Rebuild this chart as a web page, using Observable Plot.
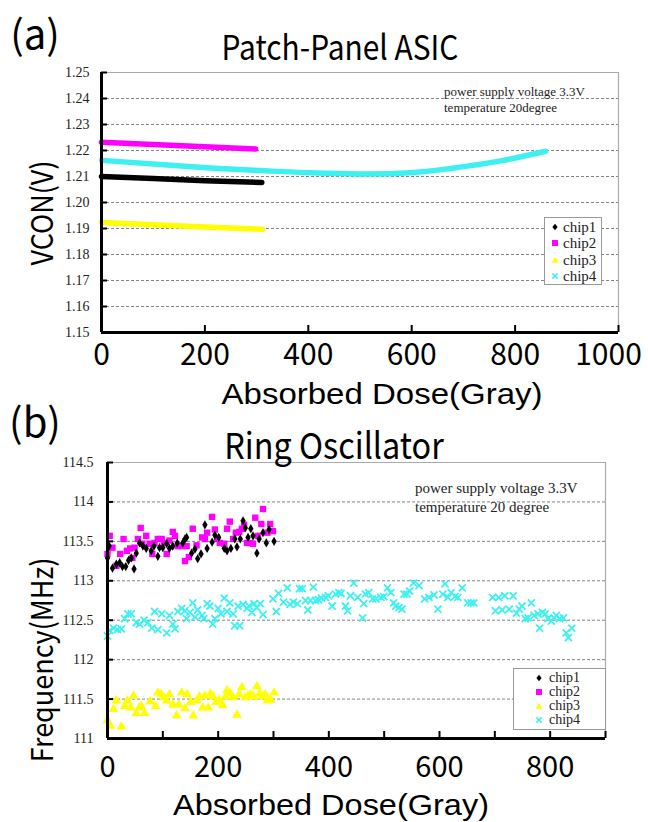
<!DOCTYPE html>
<html><head><meta charset="utf-8">
<script src="https://cdn.jsdelivr.net/npm/d3@7"></script>
<script src="https://cdn.jsdelivr.net/npm/@observablehq/plot@0.6"></script>
<style>
body{margin:0;background:#fff;}
#root{position:relative;width:648px;height:822px;overflow:hidden;background:#fff;}
.t{position:absolute;white-space:nowrap;font-family:"Noto Sans CJK JP","Noto Sans",sans-serif;color:#000;line-height:1;}
.l{position:absolute;white-space:nowrap;font-family:"Liberation Sans",Arial,sans-serif;color:#000;line-height:1;}
.s{position:absolute;white-space:nowrap;font-family:"Liberation Serif","DejaVu Serif",serif;color:#222;line-height:1;}
.plot{position:absolute;left:0;}
.legend{position:absolute;background:#fff;border:1px solid #999;box-sizing:border-box;}
</style></head><body><div id="root"></div>
<script>
// ---------- data ----------
const chips = ["chip1","chip2","chip3","chip4"];
const colors = ["#000000","#ff00ff","#ffff00","#3ff0f0"];

// Panel (a) Patch-Panel ASIC : VCON(V) vs absorbed dose
const a1Dose = [0,100,200,310];
const a1Vcon = [1.2100,1.2092,1.2084,1.2077];
const a2Dose = [0,100,200,298];
const a2Vcon = [1.2232,1.2223,1.2214,1.2206];
const a3Dose = [0,100,200,311];
const a3Vcon = [1.1923,1.1914,1.1906,1.1897];
const a4Dose = [0,114,211,307,404,501,559,620,675,772,859];
const a4Vcon = [1.2162,1.2146,1.2133,1.2123,1.2114,1.2110,1.2111,1.2118,1.2131,1.2160,1.2197];
const aXTicks = [0,200,400,600,800,1000];
const aYTicks = [1.15,1.16,1.17,1.18,1.19,1.20,1.21,1.22,1.23,1.24,1.25];

// Panel (b) Ring Oscillator : frequency(MHz) vs absorbed dose
const b1Dose = [0,3,9,16,22,27,33,38,43,48,52,58,64,70,79,84,91,94,100,107,112,118,126,136,140,143,152,158,163,169,176,180,189,194,201,211,216,223,230,234,240,245,249,254,259,263,270,274,281,287,292,301];
const b1Freq = [113.29,113.44,113.16,113.21,113.23,113.18,113.18,113.26,113.29,113.15,113.35,113.48,113.44,113.41,113.38,113.44,113.31,113.42,113.42,113.47,113.41,113.44,113.48,113.48,113.53,113.55,113.35,113.40,113.28,113.34,113.71,113.41,113.49,113.58,113.55,113.41,113.38,113.41,113.53,113.43,113.53,113.76,113.67,113.55,113.66,113.57,113.35,113.53,113.61,113.48,113.65,113.50];
const b2Dose = [0,4,9,16,23,29,35,41,45,49,55,60,63,70,76,81,85,91,98,102,107,112,118,122,127,134,140,143,147,154,161,171,176,180,189,194,198,203,211,216,221,227,232,238,243,247,252,258,263,267,272,278,281,289,294,299];
const b2Freq = [113.34,113.57,113.42,113.19,113.34,113.53,113.38,113.41,113.29,113.42,113.53,113.67,113.47,113.57,113.47,113.34,113.48,113.53,113.53,113.48,113.34,113.51,113.62,113.57,113.44,113.44,113.25,113.44,113.30,113.66,113.45,113.55,113.53,113.61,113.81,113.65,113.53,113.48,113.47,113.66,113.75,113.53,113.61,113.62,113.66,113.71,113.48,113.48,113.47,113.80,113.57,113.72,113.91,113.61,113.72,113.63];
const b3Dose = [0,5,11,16,25,31,36,42,47,52,57,61,67,77,87,91,97,102,107,112,118,125,129,134,140,144,150,155,161,166,172,176,182,186,191,196,202,208,213,216,222,227,234,238,243,249,254,259,264,270,275,279,285,289,295,301];
const b3Freq = [111.23,111.16,111.37,111.48,111.15,111.41,111.48,111.39,111.54,111.32,111.39,111.41,111.32,111.47,111.41,111.58,111.56,111.52,111.48,111.56,111.43,111.29,111.43,111.58,111.38,111.56,111.46,111.29,111.48,111.53,111.39,111.54,111.39,111.57,111.53,111.46,111.49,111.42,111.53,111.61,111.57,111.52,111.30,111.56,111.65,111.52,111.54,111.56,111.53,111.66,111.57,111.53,111.56,111.48,111.49,111.58];
const b4Dose = [0,4,11,18,25,31,37,43,52,58,66,73,80,85,91,98,107,112,118,122,127,134,140,143,149,154,158,163,171,174,180,185,190,194,200,205,211,216,221,227,230,236,239,245,252,256,261,265,270,276,281,299,305,309,318,325,330,336,343,347,352,358,362,367,372,376,381,387,394,399,406,412,418,422,430,434,439,445,452,461,463,466,472,479,485,494,499,506,512,517,521,527,532,536,541,546,553,563,573,581,590,597,606,610,615,621,628,633,641,651,657,662,696,701,707,713,718,726,733,739,744,749,755,760,766,771,778,781,786,791,796,802,807,811,817,824,829,833,839];
const b4Freq = [112.30,112.37,112.40,112.38,112.39,112.52,112.58,112.58,112.47,112.45,112.50,112.47,112.40,112.61,112.38,112.58,112.34,112.56,112.45,112.39,112.61,112.65,112.62,112.52,112.60,112.72,112.54,112.63,112.56,112.52,112.71,112.68,112.45,112.52,112.65,112.58,112.78,112.61,112.72,112.58,112.43,112.68,112.43,112.70,112.65,112.68,112.60,112.71,112.66,112.71,112.57,112.77,112.61,112.84,112.73,112.91,112.70,112.73,112.71,112.90,112.90,112.75,112.63,112.75,112.92,112.75,112.76,112.78,112.79,112.81,112.68,112.83,112.85,112.84,112.68,112.62,112.81,112.97,112.79,112.53,112.71,112.83,112.85,112.77,112.77,112.79,112.80,112.91,112.85,112.72,112.68,112.66,112.64,112.83,112.83,112.87,112.97,112.94,112.77,112.79,112.82,112.64,112.83,112.96,112.79,112.85,112.80,112.79,112.91,112.72,112.72,112.72,112.79,112.62,112.79,112.63,112.81,112.64,112.81,112.59,112.64,112.68,112.52,112.53,112.72,112.56,112.58,112.40,112.60,112.58,112.52,112.49,112.53,112.56,112.52,112.53,112.34,112.28,112.40];
const bXTicks = [0,100,200,300,400,500,600,700,800,900];
const bXLabels = [0,200,400,600,800];
const bYTicks = [111,111.5,112,112.5,113,113.5,114,114.5];

const zip = (xs, ys) => xs.map((x, i) => ({x, y: ys[i]}));

// ---------- page helpers ----------
const root = document.getElementById("root");
function txt(s, cx, cy, size, {cls = "t", rot = 0, sx = 1, weight = 400, anchor = "center"} = {}) {
  const d = document.createElement("div");
  d.className = cls;
  d.textContent = s;
  d.style.fontSize = size + "px";
  d.style.fontWeight = weight;
  d.style.left = cx + "px";
  d.style.top = cy + "px";
  const tx = anchor === "center" ? "-50%" : "0";
  d.style.transformOrigin = anchor === "center" ? "50% 50%" : "0 50%";
  d.style.transform = `translate(${tx},-50%) rotate(${rot}deg) scaleX(${sx})`;
  root.appendChild(d);
}
function markerSVG(i, size) {
  const c = colors[i], h = size / 2;
  let shape;
  if (i === 0) shape = `<path d="M${h},${h-3.2}L${h+2.6},${h}L${h},${h+3.2}L${h-2.6},${h}Z" fill="${c}"/>`;
  else if (i === 1) shape = `<rect x="${h-3}" y="${h-3}" width="6" height="6" fill="${c}"/>`;
  else if (i === 2) shape = `<path d="M${h},${h-3.3}L${h+3.3},${h+2.7}L${h-3.3},${h+2.7}Z" fill="${c}"/>`;
  else shape = `<path d="M${h-2.6},${h-2.6}L${h+2.6},${h+2.6}M${h+2.6},${h-2.6}L${h-2.6},${h+2.6}" stroke="${c}" stroke-width="1.6"/>`;
  return `<svg width="${size}" height="${size}" style="position:absolute;left:0;top:0">${shape}</svg>`;
}
function legend(left, top, w, h, mx, tx, ys, fs) {
  const box = document.createElement("div");
  box.className = "legend";
  Object.assign(box.style, {left: left + "px", top: top + "px", width: w + "px", height: h + "px"});
  root.appendChild(box);
  chips.forEach((name, i) => {
    const m = document.createElement("div");
    m.style.position = "absolute";
    m.style.left = (left + mx - 6) + "px";
    m.style.top = (ys[i] - 6) + "px";
    m.innerHTML = markerSVG(i, 12);
    root.appendChild(m);
    txt(name, left + tx, ys[i], fs, {cls: "s", anchor: "start"});
  });
}
function place(svg, top) {
  const w = document.createElement("div");
  w.className = "plot";
  w.style.top = top + "px";
  w.appendChild(svg);
  root.appendChild(w);
}

const gridStyle = {stroke: "#777", strokeOpacity: 1, strokeDasharray: "3,2", strokeWidth: 0.9};
const serif = "Liberation Serif, DejaVu Serif, serif";
const sans = "Noto Sans CJK JP, Noto Sans, sans-serif";

// ---------- panel (a) ----------
const plotA = Plot.plot({
  width: 648, height: 420,
  marginLeft: 101, marginRight: 30, marginTop: 72, marginBottom: 88,
  x: {domain: [0, 1000]},
  y: {domain: [1.15, 1.25]},
  style: {background: "transparent", overflow: "visible"},
  marks: [
    Plot.gridY(aYTicks.slice(1, -1), gridStyle),
    Plot.ruleY([1.25], {stroke: "#aaa", strokeWidth: 1.2}),
    Plot.ruleX([1000], {stroke: "#aaa", strokeWidth: 1.2}),
    Plot.line(zip(a4Dose, a4Vcon), {x: "x", y: "y", stroke: colors[3], strokeWidth: 5.5, curve: "monotone-x"}),
    Plot.line(zip(a2Dose, a2Vcon), {x: "x", y: "y", stroke: colors[1], strokeWidth: 5.5}),
    Plot.line(zip(a1Dose, a1Vcon), {x: "x", y: "y", stroke: colors[0], strokeWidth: 5.5}),
    Plot.line(zip(a3Dose, a3Vcon), {x: "x", y: "y", stroke: colors[2], strokeWidth: 5.5}),
    Plot.ruleX([0], {stroke: "#000", strokeWidth: 3}),
    Plot.ruleY([1.15], {stroke: "#000", strokeWidth: 3}),
    Plot.axisY({ticks: aYTicks, tickSize: -6, strokeWidth: 2, fill: "none", label: null}),
    Plot.axisY({ticks: aYTicks, tickSize: 0, tickPadding: 12, tickFormat: d3.format(".2f"), fontFamily: serif, fontSize: 14, fill: "#222", label: null}),
    Plot.axisX({ticks: aXTicks, tickSize: -7, strokeWidth: 2, fill: "none", label: null}),
    Plot.axisX({ticks: aXTicks.slice(0, -1), tickSize: 0, tickPadding: 11, tickFormat: d => String(d), fontFamily: sans, fontSize: 30, fill: "#000", label: null}),
    Plot.axisX({ticks: aXTicks.slice(-1), tickSize: 0, tickPadding: 11, dx: -10, tickFormat: d => String(d), fontFamily: sans, fontSize: 30, fill: "#000", label: null})
  ]
});
place(plotA, 0);

// ---------- panel (b) ----------
const plotB = Plot.plot({
  width: 648, height: 402,
  marginLeft: 107, marginRight: 43, marginTop: 42, marginBottom: 84,
  x: {domain: [0, 900]},
  y: {domain: [111, 114.5]},
  style: {background: "transparent", overflow: "visible"},
  marks: [
    Plot.gridY(bYTicks.slice(1, -1), gridStyle),
    Plot.ruleY([114.5], {stroke: "#aaa", strokeWidth: 1.2}),
    Plot.ruleX([900], {stroke: "#aaa", strokeWidth: 1.2}),
    Plot.dot(zip(b4Dose, b4Freq), {x: "x", y: "y", symbol: "times", stroke: colors[3], strokeWidth: 1.8, r: 3.3}),
    Plot.dot(zip(b3Dose, b3Freq), {x: "x", y: "y", symbol: "triangle", fill: colors[2], r: 3.6}),
    Plot.dot(zip(b2Dose, b2Freq), {x: "x", y: "y", symbol: "square", fill: colors[1], r: 3.6}),
    Plot.dot(zip(b1Dose, b1Freq), {x: "x", y: "y", symbol: "diamond", fill: colors[0], r: 2.8}),
    Plot.ruleX([0], {stroke: "#000", strokeWidth: 3}),
    Plot.ruleY([111], {stroke: "#000", strokeWidth: 3}),
    Plot.axisY({ticks: bYTicks, tickSize: -6, strokeWidth: 2, fill: "none", label: null}),
    Plot.axisY({ticks: bYTicks, tickSize: 0, tickPadding: 14, tickFormat: d => String(d), fontFamily: serif, fontSize: 14, fill: "#222", label: null}),
    Plot.axisX({ticks: bXTicks, tickSize: -7, strokeWidth: 2, fill: "none", label: null}),
    Plot.axisX({ticks: bXLabels, tickSize: 0, tickPadding: 18, tickFormat: d => String(d), fontFamily: sans, fontSize: 29, fill: "#000", label: null})
  ]
});
place(plotB, 420);

// ---------- texts ----------
txt("(a)", 35, 32, 40);
txt("Patch-Panel ASIC", 340, 46, 34, {sx: 0.88});
txt("VCON(V)", 40, 213, 30, {rot: -90, sx: 0.9});
txt("Absorbed Dose(Gray)", 382, 394, 30, {cls: "l", sx: 1.1});
txt("power supply voltage 3.3V", 444, 91, 13, {cls: "s", anchor: "start"});
txt("temperature 20degree", 444, 107, 13, {cls: "s", anchor: "start"});
legend(544, 217, 58, 68, 11, 19, [227, 243, 260, 276], 15);

txt("(b)", 35, 420, 40);
txt("Ring Oscillator", 334, 443, 36, {sx: 0.9});
txt("Frequency(MHz)", 40, 660, 30, {rot: -90, sx: 0.9});
txt("Absorbed Dose(Gray)", 331, 805, 29, {cls: "l", sx: 1.12});
txt("power supply voltage 3.3V", 415, 488, 15, {cls: "s", anchor: "start"});
txt("temperature 20 degree", 415, 507, 15, {cls: "s", anchor: "start"});
legend(513, 668, 93, 62, 26, 36, [678, 692, 706, 720], 14);
</script></body></html>
